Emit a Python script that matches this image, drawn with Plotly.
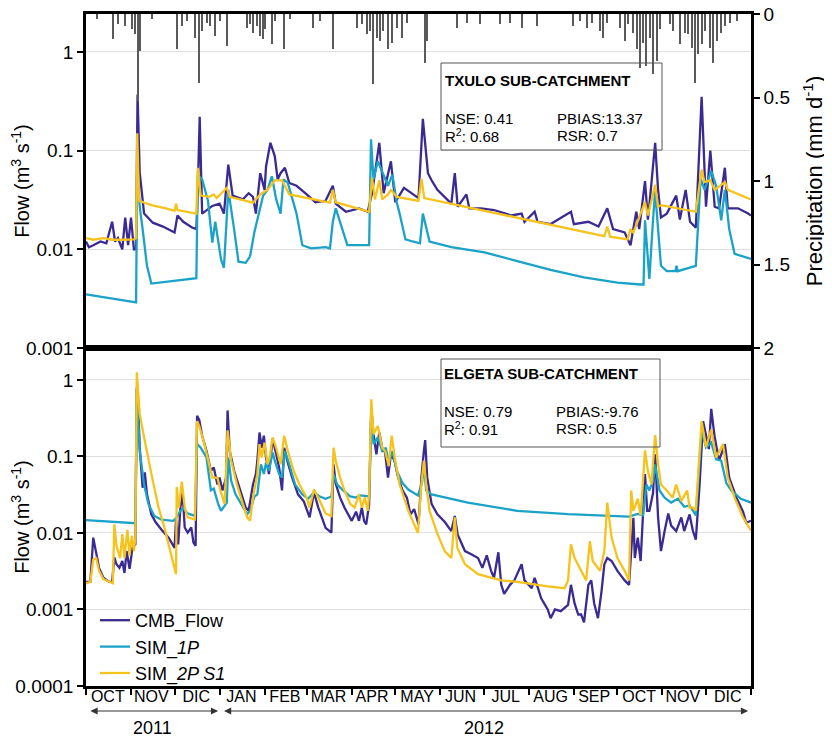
import pandas as pd
import plotly.graph_objects as go
from plotly.subplots import make_subplots

START = pd.Timestamp("2011-10-01")

# ---------------- DATA (days since 2011-10-01) ----------------
month_labels = ["OCT", "NOV", "DIC", "JAN", "FEB", "MAR", "APR", "MAY", "JUN",
                "JUL", "AUG", "SEP", "OCT", "NOV", "DIC"]
month_mid = ["2011-10-16", "2011-11-15", "2011-12-16", "2012-01-16", "2012-02-15",
             "2012-03-16", "2012-04-15", "2012-05-16", "2012-06-15", "2012-07-16",
             "2012-08-16", "2012-09-15", "2012-10-16", "2012-11-15", "2012-12-16"]

# Precipitation (top panel, right axis)
precip_day = [7.4, 18.6, 22, 26.9, 31.7, 33.7, 35.8, 37.2, 45.5, 62.7, 66.1, 69.6, 75, 77.8,
              79.9, 83.3, 85.4, 88.8, 92.3, 97.1, 110.9, 112.9, 115, 117.8, 119.8, 121.9,
              123.3, 128.1, 130.2, 136.4, 140.5, 156.3, 161.2, 170.1, 186.6, 190.1, 193.5,
              195.6, 197.7, 200.4, 202.5, 204.5, 208, 210.7, 214.2, 217.6, 221.1, 233.5,
              234.8, 255.5, 262.4, 271.3, 285.1, 292, 300.3, 310.6, 335.4, 340.2, 345,
              348.5, 354, 356.1, 358.8, 367.8, 371.2, 373.3, 376.7, 379.5, 381.5, 383.5,
              385.7, 388.4, 390.5, 393.2, 395.3, 402.2, 404.3, 409.1, 412.5, 414.6, 417.4,
              419.4, 421.5, 424.2, 426.3, 429.8, 431.8, 434.6, 437.3, 440.1, 443.5, 448.3]
precip_val = [0.03, 0.15, 0.06, 0.07, 0.09, 0.12, 0.52, 0.22, 0.03, 0.21, 0.07, 0.04, 0.14, 0.41,
              0.10, 0.05, 0.07, 0.13, 0.04, 0.19, 0.08, 0.06, 0.11, 0.07, 0.13, 0.15,
              0.09, 0.18, 0.04, 0.21, 0.03, 0.08, 0.04, 0.21, 0.08, 0.06, 0.12,
              0.10, 0.42, 0.14, 0.16, 0.10, 0.21, 0.17, 0.08, 0.14, 0.05, 0.29,
              0.16, 0.08, 0.05, 0.06, 0.06, 0.05, 0.08, 0.07, 0.07, 0.04, 0.08,
              0.05, 0.10, 0.14, 0.05, 0.08, 0.16, 0.06, 0.11, 0.21, 0.32, 0.17,
              0.31, 0.14, 0.36, 0.28, 0.09, 0.06, 0.10, 0.18, 0.11, 0.12, 0.20,
              0.41, 0.24, 0.18, 0.10, 0.20, 0.29, 0.16, 0.11, 0.07, 0.05, 0.04]

# TXULO sub-catchment
tx_cmb_day = [0, 2, 5, 10, 14, 18, 20, 22, 25, 27, 29, 31, 33, 34.5, 35.5, 37, 40, 46, 53, 61, 63,
              67, 73, 76, 77, 78.3, 80, 87, 92, 95, 98, 101, 108, 112, 115, 117, 120, 123, 124,
              127, 130, 132, 134, 137, 140, 145, 152, 158, 165, 170, 172, 179, 188, 194, 197,
              202, 205, 210, 213, 219, 229, 232, 235.5, 238, 242, 251.6, 254, 256, 262, 264,
              272, 281, 293, 300, 302, 309, 311, 320, 334, 336, 346, 353, 359, 363, 371, 375,
              379, 381, 385, 387, 389, 392, 394, 396, 400, 406.5, 409, 413, 416, 420, 424,
              427, 430, 433, 436, 440, 442, 449, 456, 458]
tx_cmb_val = [0.012, 0.0105, 0.011, 0.012, 0.0115, 0.019, 0.012, 0.013, 0.010, 0.021, 0.011, 0.021,
              0.010, 0.010, 0.37, 0.06, 0.023, 0.0186, 0.017, 0.0148, 0.022,
              0.019, 0.0166, 0.016, 0.04, 0.22, 0.023, 0.0275, 0.029, 0.023, 0.072, 0.035, 0.032,
              0.037, 0.034, 0.023, 0.059, 0.040, 0.069,
              0.12, 0.088, 0.051, 0.059, 0.067, 0.047, 0.044, 0.036, 0.030, 0.031, 0.044, 0.029,
              0.024, 0.026, 0.024, 0.037,
              0.12, 0.037, 0.078, 0.030, 0.042, 0.033, 0.21, 0.059, 0.050, 0.040, 0.029, 0.059,
              0.027, 0.036, 0.026,
              0.026, 0.025, 0.022, 0.023, 0.019, 0.024, 0.019, 0.018, 0.024, 0.018, 0.019, 0.017,
              0.026, 0.016, 0.0148, 0.011,
              0.024, 0.016, 0.049, 0.020, 0.040, 0.12, 0.040, 0.021, 0.023, 0.035, 0.020, 0.040,
              0.019, 0.0166, 0.35,
              0.027, 0.10, 0.027, 0.026, 0.067, 0.026, 0.026, 0.023, 0.022]

tx_1p_day = [0, 34.5, 35.3, 37, 39, 42, 45, 60, 76, 77, 80, 84, 87, 89, 93, 95, 98, 102, 105, 110,
             113, 116, 119, 122, 125, 128, 131, 134, 136, 139, 145, 149, 155, 165, 168, 170, 172,
             175, 180, 193, 195, 196.3, 198, 201, 205, 208, 211, 214, 216, 220, 225, 230, 232,
             236.6, 251.6, 274.5, 297, 320, 343, 366, 382, 384, 385, 387, 388, 390.5, 392, 394,
             396, 400, 406, 406.7, 407.5, 420, 423.3, 426, 430.6, 434, 437.5, 440, 443, 446.7, 458]
tx_1p_val = [0.0035, 0.0029, 0.081, 0.027, 0.016, 0.0068, 0.0045, 0.0048, 0.0051, 0.057, 0.051,
             0.031, 0.0117, 0.019, 0.0079, 0.0065, 0.040, 0.016, 0.0075, 0.0073,
             0.0085, 0.015, 0.023, 0.035, 0.040, 0.055, 0.032, 0.023, 0.051, 0.047, 0.023, 0.011,
             0.0102, 0.0105, 0.0102, 0.019, 0.026,
             0.019, 0.011, 0.011, 0.011, 0.13, 0.051, 0.078, 0.055, 0.044, 0.057, 0.030, 0.023,
             0.0126, 0.012, 0.0115, 0.023,
             0.012, 0.0105, 0.0093, 0.0076, 0.0062, 0.0052, 0.0046, 0.0044, 0.0044, 0.0197,
             0.0071, 0.005, 0.0197, 0.039, 0.016,
             0.0068, 0.006, 0.006, 0.0068, 0.006, 0.0068, 0.052, 0.040, 0.062, 0.044, 0.0197,
             0.040, 0.016, 0.009, 0.0080]

tx_2p_day = [0, 5, 12, 18, 25, 33, 34.5, 35.3, 36.5, 45, 55, 61, 62, 63, 76, 77, 79, 85, 88, 90, 97,
             99, 115, 120, 125, 130, 135, 140, 168, 170, 172, 195, 197, 199, 202, 204, 208, 210,
             214, 229, 231, 233, 357, 359, 361, 373, 375, 377, 385, 387, 392, 394, 396, 420, 424,
             426, 430, 433, 440, 442, 458]
tx_2p_val = [0.013, 0.0125, 0.013, 0.0125, 0.0125, 0.0126, 0.013, 0.15, 0.031, 0.028, 0.026, 0.0245,
             0.029, 0.025, 0.023, 0.067, 0.035, 0.034, 0.036, 0.033, 0.042,
             0.034, 0.0297, 0.036, 0.040, 0.050, 0.050, 0.036, 0.0297, 0.040, 0.030, 0.024, 0.053,
             0.032, 0.050, 0.032, 0.036, 0.040,
             0.034, 0.031, 0.052, 0.033, 0.0136, 0.017, 0.0134, 0.0126, 0.016, 0.0148, 0.030,
             0.022, 0.045, 0.027, 0.028, 0.024, 0.064,
             0.048, 0.050, 0.040, 0.048, 0.040, 0.032]

# ELGETA sub-catchment
el_cmb_day = [0, 3, 5, 7, 9, 12, 16, 18, 19.5, 21, 23, 25, 26.5, 28, 30, 32, 34, 35, 36, 37, 38, 39,
              40.5, 42, 45, 48, 52, 57, 61, 62, 63.5, 65, 66.5, 68, 70, 72.5, 74, 75.5, 76.5, 78,
              80, 83, 86, 88, 90.5, 92, 94, 96.5, 97.5, 99, 102, 106, 110, 112, 115, 117, 118,
              119.5, 121, 122.5, 124, 126, 128.5, 131, 133, 135, 136.5, 139, 142, 146, 150, 154,
              157, 160, 165, 169, 170.5, 172, 175, 178, 181, 183, 186, 188, 190, 191.5, 193, 195,
              196.5, 198, 200, 202, 204, 206, 208, 210, 212.5, 215, 218, 221, 223.5, 226, 229,
              231, 232.7, 233.6, 235, 238, 242, 247, 251.6, 254, 256, 261, 265, 270, 273, 276,
              279, 281, 284, 286, 288, 292, 295, 300, 302, 307, 309, 313.5, 318, 320, 323, 327,
              332, 334, 336.5, 339, 341, 343, 346, 348, 350, 352.6, 355, 357, 359, 362, 366, 371,
              374, 377, 378, 380, 382, 385, 386.5, 388, 390.5, 392, 394, 396, 398.5, 401, 403,
              406.5, 410, 412, 415.7, 418, 420, 422.6, 425, 427, 429, 430.6, 433, 436, 440, 443,
              448, 452.5, 454.7, 458]
el_cmb_val = [0.0023, 0.0023, 0.0087, 0.0058, 0.0035, 0.0026, 0.0023, 0.0023, 0.0048, 0.0039,
              0.0035, 0.0043, 0.0030, 0.0058, 0.0034, 0.0064, 0.0071, 0.80, 0.44, 0.13, 0.059, 0.039,
              0.062, 0.032, 0.0175, 0.0138, 0.011, 0.0086, 0.0064, 0.015, 0.0071, 0.0215, 0.034,
              0.0118, 0.0101, 0.0118, 0.0075, 0.0068, 0.34, 0.30,
              0.187, 0.118, 0.065, 0.072, 0.043, 0.053, 0.036, 0.053, 0.40, 0.118, 0.065, 0.036,
              0.0215, 0.0195, 0.043, 0.059, 0.088,
              0.206, 0.13, 0.187, 0.097, 0.059, 0.17, 0.107, 0.072, 0.036, 0.13, 0.083, 0.053,
              0.032, 0.026, 0.016,
              0.034, 0.0215, 0.0117, 0.0101, 0.079, 0.044, 0.029, 0.0215, 0.0167, 0.0144, 0.019,
              0.0144, 0.0215, 0.0144, 0.013, 0.0237,
              0.44, 0.196, 0.107, 0.206, 0.13, 0.113, 0.053, 0.107, 0.088, 0.053, 0.036, 0.029,
              0.0175, 0.0205, 0.013,
              0.053, 0.118, 0.164, 0.053, 0.024, 0.0175, 0.014, 0.0106, 0.0167, 0.0095, 0.0058,
              0.0053, 0.0047, 0.0035, 0.0051,
              0.0032, 0.0026, 0.0056, 0.0021, 0.0016, 0.0021, 0.0024, 0.0039, 0.0024, 0.0019,
              0.0026, 0.0014, 0.0010, 0.00077, 0.0010, 0.00095,
              0.00115, 0.0021, 0.0012, 0.00086, 0.00086, 0.00068, 0.0021, 0.0024, 0.0012, 0.00077,
              0.0017, 0.0039, 0.0047, 0.0043, 0.0032, 0.0024,
              0.0021, 0.0158, 0.0047, 0.0087, 0.0043, 0.059, 0.0195, 0.0195, 0.033, 0.107, 0.016,
              0.0058, 0.0106, 0.018, 0.0125,
              0.0106, 0.016, 0.0106, 0.0175, 0.0106, 0.0082, 0.043, 0.29, 0.196, 0.125, 0.42,
              0.178, 0.088, 0.145, 0.053,
              0.029, 0.019, 0.0136, 0.0144]

el_1p_day = [0, 34, 35, 37, 40, 43, 47, 52, 60, 62, 65, 67, 70, 75, 76.5, 79, 83, 86, 88, 91, 93,
             97, 98, 100, 103, 108, 111, 113, 116, 118, 120.5, 122.5, 124, 126, 128.5, 130, 133,
             135, 137, 140, 144, 149, 153, 157, 161, 165, 169, 170.5, 173, 177, 182, 186, 189,
             195, 196.5, 198, 201, 204, 206.5, 208.5, 211, 214, 218, 222, 228.6, 231.4, 232.7,
             234.3, 238, 263, 297, 332, 374, 380, 383.6, 386, 388, 390.5, 392, 395, 398.5, 403,
             407.7, 412, 415.7, 420, 424, 427, 430.6, 434, 437.5, 441, 444.4, 451, 458]
el_1p_val = [0.0147, 0.0134, 0.76, 0.118, 0.043, 0.024, 0.0167, 0.015, 0.0144, 0.0155, 0.0195,
             0.021, 0.018, 0.0167, 0.145, 0.13, 0.097, 0.036, 0.038, 0.024, 0.0195,
             0.025, 0.097, 0.048, 0.032, 0.0215, 0.0176, 0.0195, 0.030, 0.032, 0.079, 0.059,
             0.083, 0.065, 0.113, 0.088, 0.059,
             0.053, 0.118, 0.079, 0.043, 0.032, 0.028, 0.034, 0.030, 0.028, 0.030, 0.059, 0.043,
             0.036, 0.030, 0.029, 0.031,
             0.030, 0.40, 0.145, 0.178, 0.118, 0.13, 0.083, 0.118, 0.065, 0.045, 0.037, 0.031,
             0.045, 0.075,
             0.036, 0.032, 0.025, 0.0195, 0.0176, 0.0164, 0.0178, 0.017, 0.043, 0.036, 0.048,
             0.079, 0.036, 0.029, 0.025,
             0.028, 0.022, 0.023, 0.017, 0.22, 0.132, 0.152, 0.092, 0.088, 0.045, 0.036, 0.028,
             0.025]

el_2p_day = [0, 3, 5, 7, 9, 12, 16, 18.5, 19.5, 21, 23.5, 25, 26.5, 28.5, 30, 31.5, 33, 34, 35, 37,
             40, 43, 46, 50, 54, 58, 61, 62, 62.5, 64, 66, 68, 70, 75, 76.5, 78, 81, 84, 87, 90.5,
             92.5, 95.5, 97.5, 100, 104, 108, 111, 113, 115, 118, 119.5, 121, 123, 125, 126.5,
             128.5, 131, 134, 136.5, 139, 143, 147, 152, 154, 157, 160, 165, 169, 170.5, 172,
             175, 178, 182, 185, 188, 190, 192, 194, 195, 196.5, 198, 201, 204, 206, 208.5,
             210.5, 213, 216, 219, 222, 225, 228.6, 231, 232.7, 234.3, 236.6, 242, 247, 251.6,
             254, 255.7, 261, 270, 286, 297, 309, 318, 329.6, 332, 334, 336.5, 341, 344.5, 347,
             349, 354, 357, 359, 362, 366, 371, 374, 375.5, 377, 380, 382, 385, 387, 389.4, 392,
             394, 396, 400, 404, 406.5, 410, 414, 415.7, 418, 420, 424, 427, 430.6, 434, 438.7,
             442, 446.7, 452.5, 458]
el_2p_val = [0.0022, 0.0023, 0.0045, 0.0047, 0.0032, 0.0025, 0.0023, 0.0022, 0.013, 0.0068,
             0.0047, 0.0097, 0.0047, 0.011, 0.0051, 0.0092, 0.0058, 0.0087, 1.26, 0.36,
             0.178, 0.088, 0.048, 0.0215, 0.0118, 0.0058, 0.0032, 0.0029, 0.040, 0.0215, 0.047,
             0.0215, 0.016, 0.015, 0.29, 0.25, 0.16, 0.088, 0.053, 0.053,
             0.036, 0.024, 0.22, 0.088, 0.043, 0.024, 0.016, 0.0145, 0.029, 0.059, 0.145, 0.097,
             0.152, 0.079, 0.097,
             0.178, 0.13, 0.079, 0.187, 0.118, 0.065, 0.043, 0.029, 0.0215, 0.037, 0.029, 0.018,
             0.0167, 0.13, 0.088,
             0.053, 0.036, 0.024, 0.0215, 0.032, 0.0215, 0.029, 0.0195, 0.032, 0.56, 0.196,
             0.25, 0.13, 0.118, 0.075,
             0.187, 0.088, 0.043, 0.029, 0.0195, 0.0144, 0.010, 0.043, 0.088, 0.043, 0.0195,
             0.0098, 0.0058, 0.0047,
             0.016, 0.0064, 0.0039, 0.0029, 0.0024, 0.0023, 0.0021, 0.0020, 0.0019, 0.0024,
             0.0071, 0.0047, 0.0032, 0.0024, 0.0078,
             0.0043, 0.0032, 0.0058, 0.025, 0.0087, 0.0047, 0.0032, 0.0024, 0.036, 0.0195, 0.028,
             0.017, 0.12, 0.065, 0.043, 0.19,
             0.079, 0.043, 0.036, 0.029, 0.043, 0.026, 0.036, 0.0215, 0.0215, 0.0195, 0.29,
             0.132, 0.225, 0.097, 0.145,
             0.053, 0.029, 0.016, 0.0107]

series_names = ["CMB_Flow", "SIM_<i>1P</i>", "SIM_<i>2P S1</i>"]
series_colors = ["#3a2a92", "#1ba2c8", "#f6c21c"]


def to_dates(days):
    return START + pd.to_timedelta(days, unit="D")


# ---------------- FIGURE ----------------
fig = make_subplots(rows=2, cols=1, shared_xaxes=True, vertical_spacing=0,
                    row_heights=[334, 338],
                    specs=[[{"secondary_y": True}], [{}]])

fig.add_trace(go.Bar(x=to_dates(precip_day), y=precip_val, width=0.4 * 86400000,
                     marker=dict(color="#5a5a5a", line=dict(width=0)),
                     showlegend=False, hoverinfo="skip"),
              row=1, col=1, secondary_y=True)

top = [(tx_cmb_day, tx_cmb_val), (tx_1p_day, tx_1p_val), (tx_2p_day, tx_2p_val)]
bot = [(el_cmb_day, el_cmb_val), (el_1p_day, el_1p_val), (el_2p_day, el_2p_val)]

for (d, v), name, col in zip(top, series_names, series_colors):
    fig.add_trace(go.Scatter(x=to_dates(d), y=v, mode="lines", name=name,
                             line=dict(color=col, width=2.3), showlegend=False),
                  row=1, col=1, secondary_y=False)
for (d, v), name, col in zip(bot, series_names, series_colors):
    fig.add_trace(go.Scatter(x=to_dates(d), y=v, mode="lines", name=name,
                             line=dict(color=col, width=2.3), showlegend=True),
                  row=2, col=1)

BASE = "Liberation Sans, Arial, sans-serif"
LW = 2.5

# page offset (body margin) -> figure drawn 8 px right/down
OFF = 8
W, H = 824, 731
PL, PR, PT, PB = 86, 751, 14, 686     # plot area in screen pixels


def px(xp):
    return (xp - PL) / (PR - PL)


def py(yp):
    return (PB - yp) / (PB - PT)


split = py(348)

fig.update_layout(
    width=W, height=H,
    margin=dict(l=PL - OFF, r=W - (PR - OFF), t=PT - OFF, b=H - (PB - OFF), autoexpand=False),
    paper_bgcolor="white", plot_bgcolor="white",
    font=dict(family=BASE, size=19, color="black"),
    bargap=0,
    legend=dict(x=px(95), y=py(602), xanchor="left", yanchor="top",
                bgcolor="rgba(0,0,0,0)", font=dict(family=BASE, size=18),
                itemwidth=30, tracegroupgap=0),
)

xr = ["2011-10-01", "2013-01-01"]
fig.update_xaxes(range=xr, domain=[0, 1], showgrid=False, showline=True, mirror=True,
                 linewidth=LW, linecolor="black", row=1, col=1, ticks="",
                 showticklabels=False, automargin=False)
fig.update_xaxes(range=xr, domain=[0, 1], showgrid=False, showline=True, mirror=True,
                 linewidth=LW, linecolor="black", row=2, col=1, automargin=False,
                 tickmode="array", tickvals=month_mid, ticktext=month_labels, ticks="",
                 tickangle=0, tickfont=dict(family=BASE, size=16), ticklabelstandoff=-6,
                 minor=dict(ticks="outside", dtick="M1", tick0="2011-10-01", ticklen=6,
                            tickwidth=2, tickcolor="black", showgrid=False))

fig.update_yaxes(type="log", range=[-3, 0.384], row=1, col=1, secondary_y=False,
                 domain=[split, 1],
                 tickmode="array", tickvals=[0.001, 0.01, 0.1, 1],
                 ticktext=["0.001", "0.01", "0.1", "1"], automargin=False,
                 ticks="outside", ticklen=6, tickwidth=2, tickcolor="black",
                 showgrid=True, gridcolor="#dedede", gridwidth=1,
                 showline=True, mirror=True, linewidth=LW, linecolor="black",
                 title=dict(text="Flow (m<sup>3</sup> s<sup>-1</sup>)", font=dict(size=20),
                            standoff=6))
fig.update_yaxes(range=[2, -0.002], row=1, col=1, secondary_y=True, automargin=False,
                 domain=[split, 1], ticklabeloverflow="allow",
                 tickmode="array", tickvals=[0, 0.5, 1, 1.5, 2],
                 ticktext=["0", "0.5", "1", "1.5", "2"],
                 ticks="outside", ticklen=6, tickwidth=2, tickcolor="black",
                 showgrid=False, showline=True, linewidth=LW, linecolor="black",
                 title=dict(text="Precipitation (mm d<sup>-1</sup>)", font=dict(size=22),
                            standoff=18))
fig.update_yaxes(type="log", range=[-4, 0.418], row=2, col=1, automargin=False,
                 domain=[0, split],
                 tickmode="array", tickvals=[0.0001, 0.001, 0.01, 0.1, 1],
                 ticktext=["0.0001", "0.001", "0.01", "0.1", "1"],
                 ticks="outside", ticklen=6, tickwidth=2, tickcolor="black",
                 showgrid=True, gridcolor="#dedede", gridwidth=1,
                 showline=True, mirror=True, linewidth=LW, linecolor="black",
                 title=dict(text="Flow (m<sup>3</sup> s<sup>-1</sup>)", font=dict(size=20),
                            standoff=6))

shapes = []
for (x0, y0, x1, y1) in [(441, 63, 662, 150), (441, 359, 660, 447)]:
    shapes.append(dict(type="rect", xref="paper", yref="paper", x0=px(x0), x1=px(x1),
                       y0=py(y1), y1=py(y0), line=dict(color="#555555", width=1),
                       fillcolor="rgba(0,0,0,0)", layer="above"))
fig.update_layout(shapes=shapes)

boxfont = dict(family=BASE, size=15, color="black")
ann = []
box_texts = [
    (443, 81, "<b>TXULO SUB-CATCHMENT</b>"),
    (443, 118, "NSE: 0.41"), (555, 118, "PBIAS:13.37"),
    (443, 135, "R<sup>2</sup>: 0.68"), (555, 135, "RSR: 0.7"),
    (442, 373, "<b>ELGETA SUB-CATCHMENT</b>"),
    (442, 411, "NSE: 0.79"), (554, 411, "PBIAS:-9.76"),
    (442, 428, "R<sup>2</sup>: 0.91"), (554, 428, "RSR: 0.5"),
]
for x, y, t in box_texts:
    ann.append(dict(xref="paper", yref="paper", x=px(x), y=py(y), text=t, showarrow=False,
                    xanchor="left", yanchor="middle", font=boxfont))

# year arrows
for d0, d1 in [("2011-10-03", "2011-12-31"), ("2012-01-03", "2012-12-30")]:
    ann.append(dict(xref="x2", yref="paper", x=d1, y=py(711), axref="x2", ayref="pixel",
                    ax=d0, ay=0, text="", showarrow=True, arrowhead=2, arrowsize=1.2,
                    arrowwidth=1.2, arrowside="end+start", arrowcolor="#333333"))
for d, t in [("2011-11-16", "2011"), ("2012-07-01", "2012")]:
    ann.append(dict(xref="x2", yref="paper", x=d, y=py(728), text=t, showarrow=False,
                    xanchor="center", yanchor="middle",
                    font=dict(family=BASE, size=18, color="black")))
fig.update_layout(annotations=ann)

fig.write_html("out.html")
